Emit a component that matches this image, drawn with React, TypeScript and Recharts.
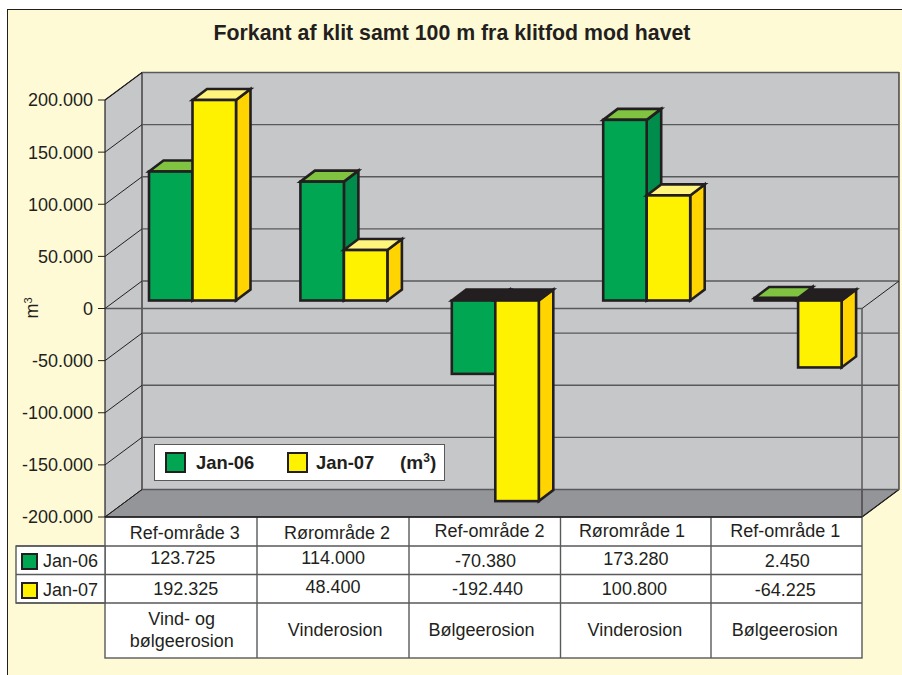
import { Bar, BarChart, CartesianGrid, Legend, XAxis, YAxis } from "recharts";

const categories = ["Ref-område 3", "Røromr\u00e5de 2", "Ref-område 2", "Røromr\u00e5de 1", "Ref-område 1"];
const jan06 = [123725, 114000, -70380, 173280, 2450];
const jan07 = [192325, 48400, -192440, 100800, -64225];
const erosion = [["Vind- og", "bølgeerosion"], ["Vinderosion"], ["Bølgeerosion"], ["Vinderosion"], ["Bølgeerosion"]];
const yTicks = [-200000, -150000, -100000, -50000, 0, 50000, 100000, 150000, 200000];
const seriesNames = ["Jan-06", "Jan-07"];

const data = categories.map((name, i) => ({ name, jan06: jan06[i], jan07: jan07[i], erosion: erosion[i] }));

// layout of the original, which has its table text placed by hand
const W = 902;
const H = 675;
const LEFT = 105;
const RIGHT = 862;
const TOP = 100;
const BOTTOM = 517;
const ZERO = (TOP + BOTTOM) / 2;
const DEPTH_X = 37;
const DEPTH_Y = 27.5;
const BAR_SHIFT_X = 12;
const BAR_SHIFT_Y = 8;
const BAR_DEPTH_X = 14.5;
const BAR_DEPTH_Y = 11;
const INK = "#231f20";
const LINE = "#58595b";
const WALL = "#c6c7c9";
const FLOOR = "#939598";
const PAPER = "#fffad6";
const FONT = "'Liberation Sans', Arial, sans-serif";
const TABLE_FONT = 18;

const tableCols = [105, 257, 409, 560.5, 711, 862];
const tableRows = [517, 546, 574.5, 603, 658];
const nameDx = [4, 5, 6, -3, -1];
const nameY = [532.5, 532.5, 530.5, 530.5, 530.5];
const row06Dx = [2, 1, 2, 1, 1];
const row06Y = [558, 557.5, 560.5, 559, 561];
const row07Dx = [5, 1, 4, -0.5, -1];
const row07Y = [589, 586.5, 589, 589, 590];
const erosionDx = [1, 3, -2, 0, -1.5];

const green = { front: "#00a651", top: "#80c341", side: "#008c4a" };
const yellow = { front: "#fff200", top: "#fff57c", side: "#ffd400" };

const fmt = (v: number) => String(v).replace(/\B(?=(\d{3})+$)/g, ".");

function Bar3D(props: any) {
  const { x, y, width, height, payload, dataKey, colors } = props;
  const top = Math.min(y, y + height) - BAR_SHIFT_Y;
  const bottom = Math.max(y, y + height) - BAR_SHIFT_Y;
  const left = x + BAR_SHIFT_X;
  const right = left + width;
  const dx = BAR_DEPTH_X;
  const dy = BAR_DEPTH_Y;
  const negative = payload[dataKey] < 0;
  const common = { stroke: INK, strokeWidth: 2.6, strokeLinejoin: "miter" as const };
  return (
    <g>
      <polygon points={`${right},${top} ${right + dx},${top - dy} ${right + dx},${bottom - dy} ${right},${bottom}`} fill={colors.side} {...common} />
      <polygon points={`${left},${top} ${left + dx},${top - dy} ${right + dx},${top - dy} ${right},${top}`} fill={negative ? INK : colors.top} {...common} />
      <rect x={left} y={top} width={width} height={bottom - top} fill={colors.front} {...common} />
    </g>
  );
}

function GridLine(props: any) {
  const { x1, x2, y1, index } = props;
  const isZero = Math.abs(y1 - ZERO) < 1;
  return (
    <g key={`grid-${index}-${y1}`}>
      <line x1={x1} y1={y1} x2={x1 + DEPTH_X} y2={y1 - DEPTH_Y} stroke={INK} strokeWidth={1} />
      <line x1={x1 + DEPTH_X} y1={y1 - DEPTH_Y} x2={x2 + DEPTH_X} y2={y1 - DEPTH_Y} stroke={LINE} strokeWidth={1.4} />
      {isZero && <line x1={x1} y1={y1} x2={x2} y2={y1} stroke={LINE} strokeWidth={1.4} />}
      {isZero && <line x1={x2} y1={y1} x2={x2 + DEPTH_X} y2={y1 - DEPTH_Y} stroke={INK} strokeWidth={1} />}
    </g>
  );
}

function TableTick(props: any) {
  const { x, index } = props;
  const textProps = { textAnchor: "middle" as const, fontSize: TABLE_FONT, fill: INK, fontFamily: FONT };
  const lines = erosion[index];
  return (
    <g>
      <text x={x + nameDx[index]} y={nameY[index] + 6} {...textProps}>{categories[index]}</text>
      <text x={x + row06Dx[index]} y={row06Y[index] + 6} {...textProps}>{fmt(jan06[index])}</text>
      <text x={x + row07Dx[index]} y={row07Y[index] + 6} {...textProps}>{fmt(jan07[index])}</text>
      {lines.map((line, i) => (
        <text key={line} x={x + erosionDx[index]} y={lines.length > 1 ? 625 + i * 22 : 636} {...textProps}>{line}</text>
      ))}
    </g>
  );
}

function ChartLegend({ payload }: any) {
  const swatch = (color: string) => (
    <span style={{ display: "block", width: 17, height: 17, background: color, border: `2px solid ${INK}`, boxSizing: "content-box" }} />
  );
  return (
    <div style={{ position: "relative", width: 291, height: 37, boxSizing: "border-box", background: "#fff", border: `1px solid ${LINE}`, fontFamily: FONT, fontWeight: 700, fontSize: 18.4, color: INK }}>
      {(payload ?? []).map((item: any, i: number) => (
        <div key={item.value}>
          <div style={{ position: "absolute", left: 9.5 + i * 122, top: 7.5 }}>{swatch(item.color)}</div>
          <div style={{ position: "absolute", left: 41 + i * 120, top: 8, lineHeight: "20px" }}>{item.value}</div>
        </div>
      ))}
      <div style={{ position: "absolute", left: 245, top: 8, lineHeight: "20px", fontSize: 19 }}>
        (m<sup style={{ fontSize: 12, lineHeight: 0 }}>3</sup>)
      </div>
    </div>
  );
}

function Backdrop() {
  const backTop = TOP - DEPTH_Y;
  const backBottom = BOTTOM - DEPTH_Y;
  const backLeft = LEFT + DEPTH_X;
  const backRight = RIGHT + DEPTH_X;
  return (
    <svg width={W} height={H} style={{ position: "absolute", left: 0, top: 0 }}>
      <rect x={0} y={0} width={W} height={H} fill="#fff" />
      <rect x={7.5} y={9.5} width={W + 10} height={H + 10} fill={PAPER} stroke={INK} strokeWidth={1} />
      <text x={452} y={40} textAnchor="middle" fontFamily={FONT} fontWeight={700} fontSize={21.3} fill={INK}>
        Forkant af klit samt 100 m fra klitfod mod havet
      </text>
      <text transform="rotate(-90 38 308)" x={38} y={308} textAnchor="middle" fontFamily={FONT} fontSize={18} fill={INK}>
        m<tspan fontSize={11} dy={-6}>3</tspan>
      </text>
      <polygon points={`${LEFT},${TOP} ${backLeft},${backTop} ${backRight},${backTop} ${backRight},${backBottom} ${RIGHT},${BOTTOM} ${LEFT},${BOTTOM}`} fill={WALL} />
      <polygon points={`${LEFT},${BOTTOM} ${backLeft},${backBottom} ${backRight},${backBottom} ${RIGHT},${BOTTOM}`} fill={FLOOR} stroke={INK} strokeWidth={1} />
      <polyline points={`${LEFT},${TOP} ${backLeft},${backTop} ${backRight},${backTop} ${backRight},${backBottom} ${RIGHT},${BOTTOM}`} fill="none" stroke={INK} strokeWidth={1.2} />
      <line x1={backLeft} y1={backTop} x2={backLeft} y2={backBottom} stroke={INK} strokeWidth={1.2} />
      <line x1={RIGHT} y1={ZERO} x2={RIGHT} y2={BOTTOM} stroke={INK} strokeWidth={1} />

      <rect x={LEFT} y={BOTTOM} width={RIGHT - LEFT} height={tableRows[4] - BOTTOM} fill="#fff" stroke={LINE} strokeWidth={1.4} />
      <rect x={16} y={tableRows[1]} width={LEFT - 16} height={tableRows[3] - tableRows[1]} fill="#fff" stroke={LINE} strokeWidth={1.4} />
      {tableRows.slice(1, 4).map((y) => (
        <line key={y} x1={16} y1={y} x2={RIGHT} y2={y} stroke={LINE} strokeWidth={1.4} />
      ))}
      {tableCols.slice(1, 5).map((x) => (
        <line key={x} x1={x} y1={BOTTOM} x2={x} y2={tableRows[4]} stroke={LINE} strokeWidth={1.4} />
      ))}
      <line x1={LEFT} y1={BOTTOM} x2={RIGHT} y2={BOTTOM} stroke={INK} strokeWidth={1.4} />
      {seriesNames.map((name, i) => (
        <g key={name}>
          <rect x={22} y={554 + i * 29} width={15} height={15} fill={i === 0 ? green.front : yellow.front} stroke={INK} strokeWidth={2} />
          <text x={43} y={567 + i * 29} fontFamily={FONT} fontSize={TABLE_FONT} fill={INK}>{name}</text>
        </g>
      ))}
    </svg>
  );
}

export default function App() {
  return (
    <div style={{ position: "absolute", left: 0, top: 0, width: W, height: H, overflow: "hidden", fontFamily: FONT }}>
      <Backdrop />
      <div style={{ position: "absolute", left: 0, top: 0 }}>
        <BarChart
          width={W}
          height={H}
          data={data}
          margin={{ top: TOP, right: W - RIGHT, bottom: 0, left: 0 }}
          barSize={43.5}
          barGap={0}
        >
          <CartesianGrid vertical={false} horizontal={GridLine as any} />
          <XAxis dataKey="name" height={H - BOTTOM} interval={0} axisLine={false} tickLine={false} tick={TableTick as any} />
          <YAxis
            width={LEFT}
            domain={[-200000, 200000]}
            ticks={yTicks}
            interval={0}
            tickFormatter={fmt}
            tickSize={7}
            tickMargin={5}
            stroke={INK}
            axisLine={{ stroke: INK, strokeWidth: 1.2 }}
            tickLine={{ stroke: INK, strokeWidth: 1 }}
            tick={{ fontSize: 18, fill: INK, fontFamily: FONT }}
          />
          <Legend
            layout="horizontal"
            verticalAlign="middle"
            content={ChartLegend as any}
            wrapperStyle={{ position: "absolute", left: 154, top: 443.5, width: 291, height: 37, bottom: "auto", right: "auto" }}
          />
          <Bar
            dataKey="jan06"
            name={seriesNames[0]}
            fill={green.front}
            isAnimationActive={false}
            shape={(p: any) => <Bar3D {...p} dataKey="jan06" colors={green} />}
          />
          <Bar
            dataKey="jan07"
            name={seriesNames[1]}
            fill={yellow.front}
            isAnimationActive={false}
            shape={(p: any) => <Bar3D {...p} dataKey="jan07" colors={yellow} />}
          />
        </BarChart>
      </div>
    </div>
  );
}
